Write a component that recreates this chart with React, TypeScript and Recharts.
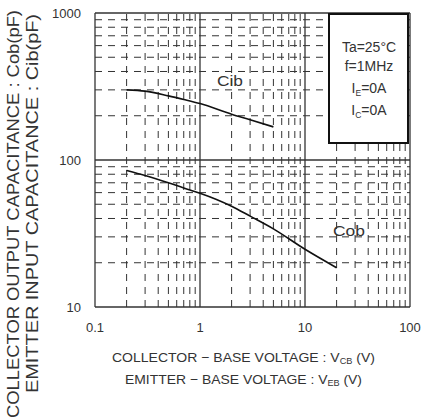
import { LineChart, Line, XAxis, YAxis, ReferenceLine } from "recharts";

const xTicks = [0.1, 1, 10, 100];
const yTicks = [10, 100, 1000];
const xMinor = [0.2, 0.3, 0.4, 0.5, 0.6, 0.7, 0.8, 0.9, 2, 3, 4, 5, 6, 7, 8, 9, 20, 30, 40, 50, 60, 70, 80, 90];
const yMinor = [20, 30, 40, 50, 60, 70, 80, 90, 200, 300, 400, 500, 600, 700, 800, 900];

const cibV = [0.2, 0.3, 0.5, 0.7, 1, 2, 3, 5];
const cibC = [300, 294, 273, 258, 242, 205, 188, 168];
const cobV = [0.2, 0.3, 0.5, 0.7, 1, 2, 3, 5, 10, 20];
const cobC = [85, 78.5, 70, 64.5, 59.5, 48.5, 41.5, 34, 24.7, 18.5];

const cib = cibV.map((v, i) => ({ v, c: cibC[i] }));
const cob = cobV.map((v, i) => ({ v, c: cobC[i] }));

const W = 438;
const H = 420;
const font = "'Liberation Sans', Arial, sans-serif";
const grid = "#333";

export default function App() {
  return (
    <div style={{ position: "absolute", left: 0, top: 0, width: W, height: H, background: "#fff" }}>
      <LineChart width={W} height={H} margin={{ top: 13, right: 28, bottom: 83, left: 0 }}>
        <XAxis
          type="number"
          dataKey="v"
          scale="log"
          domain={[0.1, 100]}
          ticks={xTicks}
          allowDataOverflow
          height={30}
          axisLine={false}
          tickLine={false}
          tickMargin={10}
          tick={{ fill: "#333", fontSize: 13, fontFamily: font }}
        />
        <YAxis
          type="number"
          dataKey="c"
          scale="log"
          domain={[10, 1000]}
          ticks={yTicks}
          allowDataOverflow
          width={95}
          axisLine={false}
          tickLine={false}
          tickMargin={8}
          tick={{ fill: "#333", fontSize: 13, fontFamily: font }}
        />
        {xMinor.map((x) => (
          <ReferenceLine key={"x" + x} x={x} stroke={grid} strokeWidth={1} strokeDasharray="7 6" />
        ))}
        {yMinor.map((y) => (
          <ReferenceLine key={"y" + y} y={y} stroke={grid} strokeWidth={1} strokeDasharray="7 6" />
        ))}
        {xTicks.map((x) => (
          <ReferenceLine key={"X" + x} x={x} stroke="#333" strokeWidth={1.3} />
        ))}
        {yTicks.map((y) => (
          <ReferenceLine key={"Y" + y} y={y} stroke="#333" strokeWidth={1.3} />
        ))}
        <Line data={cib} dataKey="c" type="monotone" stroke="#111" strokeWidth={1.6} dot={false} isAnimationActive={false} />
        <Line data={cob} dataKey="c" type="monotone" stroke="#111" strokeWidth={1.6} dot={false} isAnimationActive={false} />
      </LineChart>
      <svg
        width={W}
        height={H}
        style={{ position: "absolute", left: 0, top: 0, pointerEvents: "none", whiteSpace: "pre" }}
        fontFamily={font}
        fill="#333"
      >
        <text x={217} y={86} fontSize={15.5} textLength={26} lengthAdjust="spacingAndGlyphs">Cib</text>
        <text x={333} y={236} fontSize={15.5} textLength={32} lengthAdjust="spacingAndGlyphs">Cob</text>
        <rect x={329} y={14} width={79} height={129} fill="#fff" stroke="#111" strokeWidth={2} />
        <g fontSize={14} textAnchor="middle">
          <text x={369} y={52}>Ta=25°C</text>
          <text x={369} y={71}>f=1MHz</text>
          <text x={369} y={93}>
            I<tspan fontSize={8.5} dy={3}>E</tspan>
            <tspan dy={-3}>=0A</tspan>
          </text>
          <text x={369} y={115}>
            I<tspan fontSize={8.5} dy={3}>C</tspan>
            <tspan dy={-3}>=0A</tspan>
          </text>
        </g>
        <g fontSize={13}>
          <text x={112} y={362} textLength={263} lengthAdjust="spacingAndGlyphs">
            {"COLLECTOR − BASE VOLTAGE  : V"}<tspan fontSize={8.5} dy={2}>CB</tspan>
            <tspan dy={-2}>{" (V)"}</tspan>
          </text>
          <text x={125} y={384} textLength={237} lengthAdjust="spacingAndGlyphs">
            {"EMITTER − BASE VOLTAGE : V"}<tspan fontSize={8.5} dy={2}>EB</tspan>
            <tspan dy={-2}>{" (V)"}</tspan>
          </text>
        </g>
        <g fontSize={16}>
          <text transform="translate(19,418) rotate(-90)" textLength={408} lengthAdjust="spacingAndGlyphs">
            {"COLLECTOR  OUTPUT CAPACITANCE  : Cob(pF)"}
          </text>
          <text transform="translate(38,393) rotate(-90)" textLength={379} lengthAdjust="spacingAndGlyphs">
            {"EMITTER INPUT CAPACITANCE  : Cib(pF)"}
          </text>
        </g>
      </svg>
    </div>
  );
}
